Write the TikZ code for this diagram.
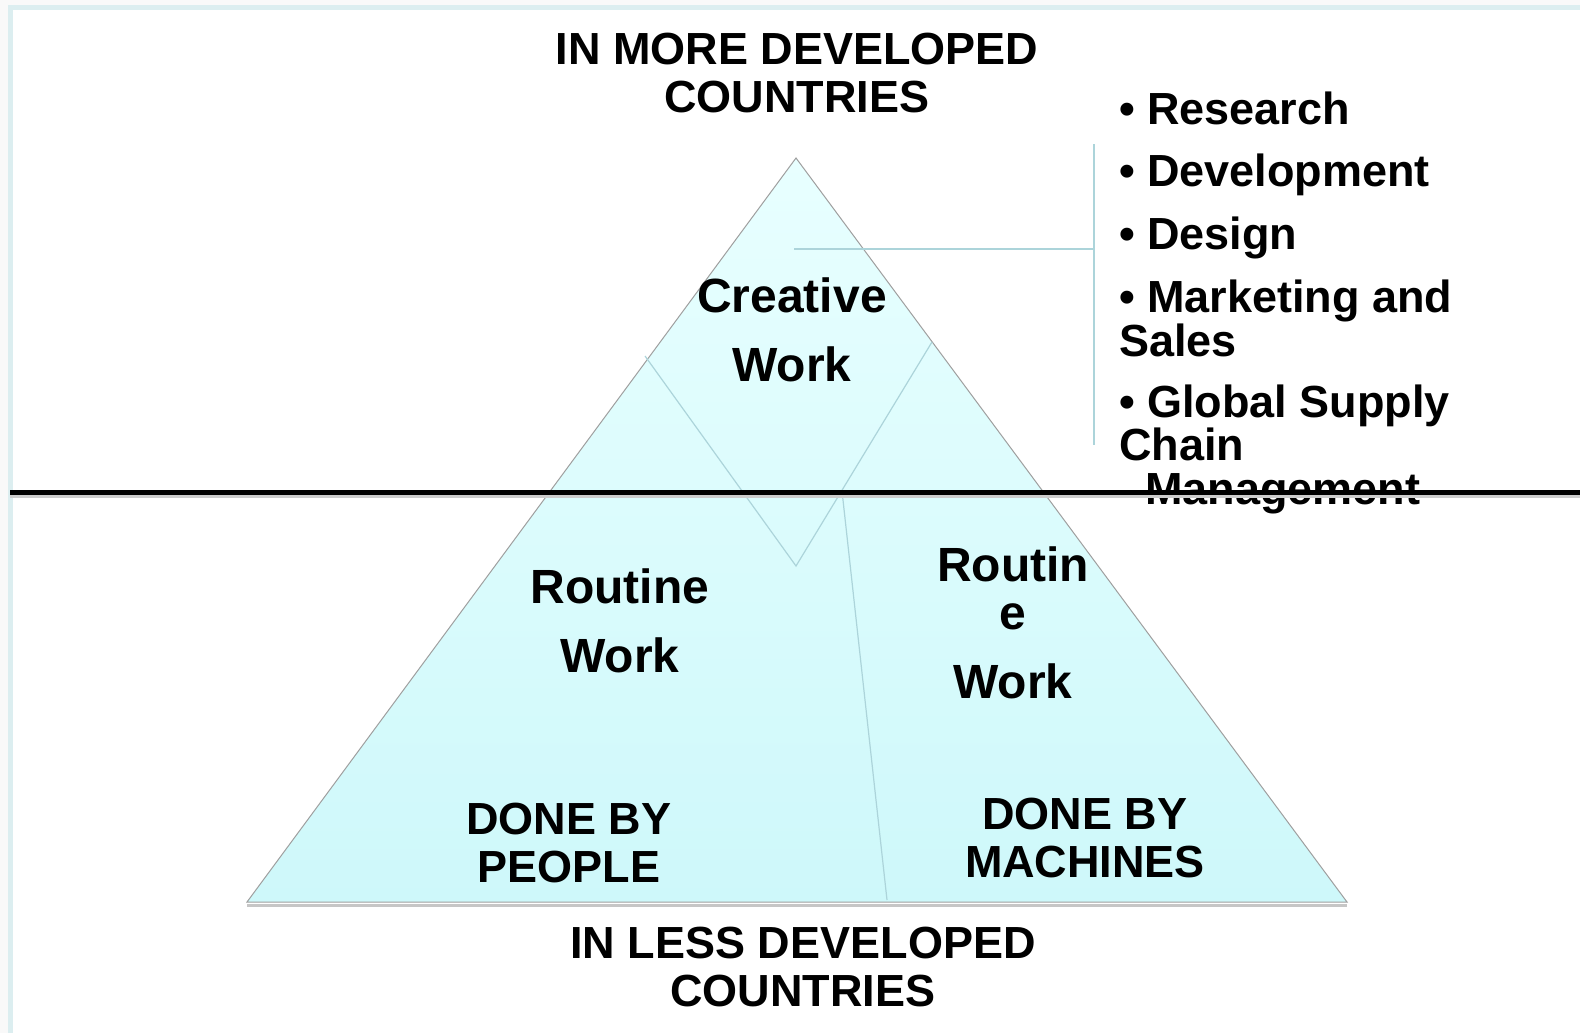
\documentclass[tikz,border=0pt]{standalone}
\usepackage{fontspec}
\setmainfont{Liberation Sans}
\usetikzlibrary{
  calc,
  positioning,
}
\definecolor{pyramidtop}{RGB}{232, 255, 255}
\definecolor{pyramidbottom}{RGB}{206, 248, 250}
\definecolor{splitline}{RGB}{172, 212, 218}
\definecolor{frameblue}{RGB}{220, 238, 240}
\tikzstyle{heading} = [
  font=\bfseries\fontsize{45}{48}\selectfont,
  align=center,
  inner sep=0pt,
  anchor=base,
]
\tikzstyle{worktext} = [
  font=\bfseries\fontsize{48}{69}\selectfont,
  align=center,
  inner sep=0pt,
  anchor=base,
]
\tikzstyle{itemtext} = [
  font=\bfseries\fontsize{45}{43.5}\selectfont,
  align=left,
  inner sep=0pt,
  anchor=base west,
]
\tikzstyle{thinline} = [splitline, line width=1.2pt]

\begin{document}
\begin{tikzpicture}[x=1pt, y=-1pt]

        \useasboundingbox (0,0) rectangle (1580,1033);

        % Frame
        \fill [gray!5] (0,0) rectangle (1580,5);
        \fill [gray!5] (0,0) rectangle (8,1033);
        \fill [frameblue] (8,5) rectangle (1580,10);
        \fill [frameblue] (8,5) rectangle (13,1033);

        % Pyramid
        \coordinate (apex) at (796,158);
        \coordinate (base-left) at (247,902);
        \coordinate (base-right) at (1347,902);

        \draw [gray!45, line width=3pt] ([yshift=-3pt]base-left) -- ([yshift=-3pt]base-right);
        \shade [top color=pyramidtop, bottom color=pyramidbottom]
              (apex) -- (base-right) -- (base-left) -- cycle;
        \draw [gray!75, line width=1pt] (apex) -- (base-right) -- (base-left) -- cycle;

        \coordinate (v-left) at (645,356);
        \coordinate (v-right) at (932,342);
        \coordinate (v-bottom) at (796,566);
        \coordinate (split-top) at (842,491);
        \coordinate (split-bottom) at (887,900);

        \draw [thinline] (v-left) -- (v-bottom) -- (v-right);
        \draw [thinline] (split-top) -- (split-bottom);

        % Headings (base = last line)
        \node [heading] (more) at (797,113) {IN MORE DEVELOPED\\COUNTRIES};
        \node [heading] (less) at (803,1006) {IN LESS DEVELOPED\\COUNTRIES};

        % Work
        \node [worktext] (creative) at (792,381) {Creative\\Work};
        \node [worktext] (routine-people) at (620,672) {Routine\\Work};
        \node [worktext] (routine-machines) at (1013,698) {Routin\\[-21pt]e\\Work};

        \node [heading] (people) at (569,882) {DONE BY\\PEOPLE};
        \node [heading] (machines) at (1085,877) {DONE BY\\MACHINES};

        % Activities
        \node [itemtext] (research) at (1119,124) {• Research};
        \node [itemtext] (development) at (1119,186) {• Development};
        \node [itemtext] (design) at (1119,249) {• Design};
        \node [itemtext] (marketing) at (1119,356) {• Marketing and\\Sales};
        \node [itemtext] (supply) at (1119,504) {• Global Supply\\Chain\\\hspace*{26pt}Management};

        \coordinate (creative-tip) at (794,249);
        \coordinate (list-top) at (1094,144);
        \coordinate (list-bottom) at (1094,445);

        \draw [thinline] (creative-tip) -- (creative-tip -| list-top);
        \draw [thinline] (list-top) -- (list-bottom);

        % Divide
        \coordinate (divide-left) at (10,492);
        \coordinate (divide-right) at (1580,492);

        \draw [gray!40, line width=4pt] ([yshift=-4pt]divide-left) -- ([yshift=-4pt]divide-right);
        \draw [black, line width=5pt] (divide-left) -- (divide-right);
      \end{tikzpicture}
\end{document}
